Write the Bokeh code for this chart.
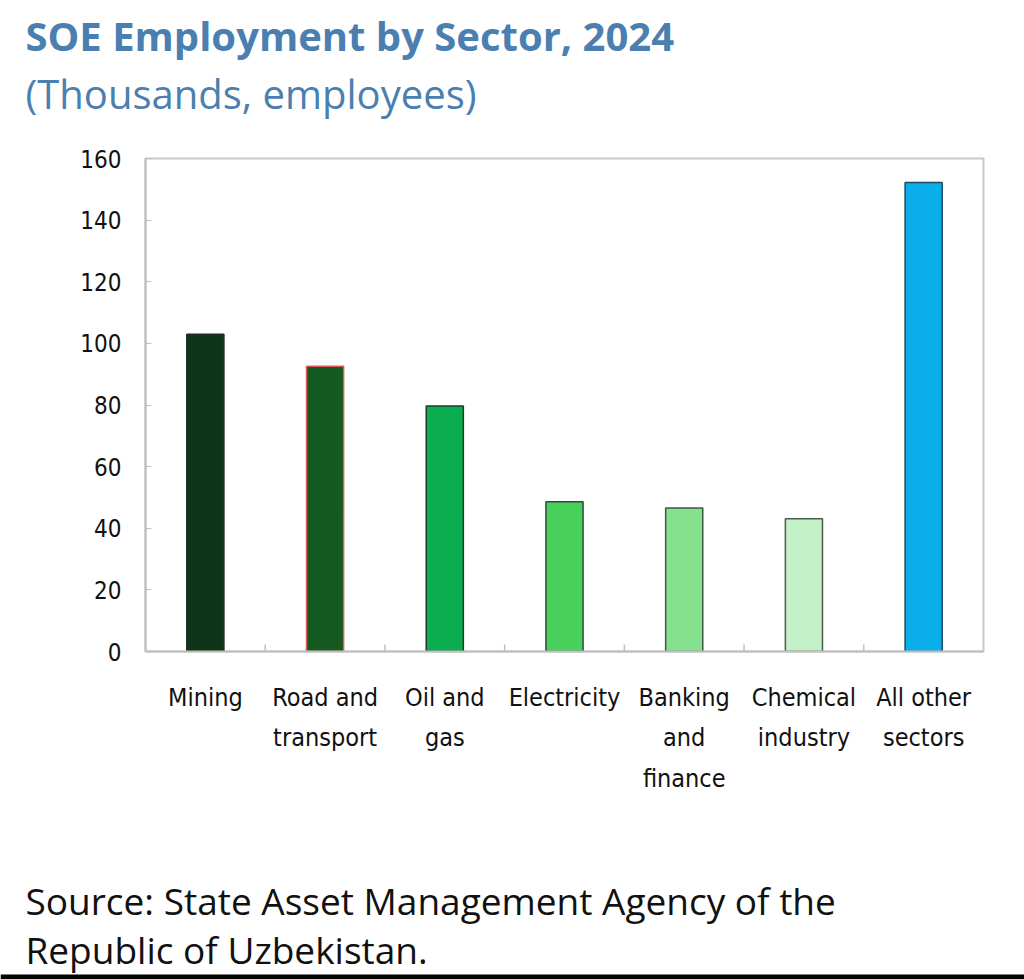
import math
from bokeh.plotting import figure
from bokeh.layouts import column
from bokeh.models import ColumnDataSource, Label, BoxAnnotation
from bokeh.transform import dodge
from bokeh.embed import file_html
from bokeh.resources import INLINE

sectors = ["Mining", "Road and\ntransport", "Oil and\ngas", "Electricity",
           "Banking\nand\nfinance", "Chemical\nindustry", "All other\nsectors"]
employees = [103.0, 92.6, 79.7, 48.6, 46.6, 43.1, 152.2]
colors = ["#0f3417", "#145a20", "#0aad4f", "#47d15c", "#86e18f", "#c4f0c8", "#0aaeea"]
outlines = ["#1e2e22", "#e05a5a", "#1e3a28", "#2f4a35", "#3c5a43", "#4a5e4e", "#1f4a60"]
y_ticks = [0, 20, 40, 60, 80, 100, 120, 140, 160]

TITLE_FONT = "Open Sans"
TICK_FONT = "DejaVu Sans Condensed, sans-serif"
W = 1024
HEAD_H, MAIN_H, FOOT_H = 120, 740, 119


def blank(h):
    f = figure(width=W, height=h, x_range=(0, W), y_range=(0, h),
               x_axis_type=None, y_axis_type=None, output_backend="svg",
               toolbar_location=None, min_border=0)
    f.frame_align = False
    f.grid.grid_line_color = None
    f.outline_line_color = None
    return f


# ---- header
head = blank(HEAD_H)
title_color = "#4a7fb0"
head.add_layout(Label(x=25, y=HEAD_H - 35, x_units="screen", y_units="screen",
                      text="SOE Employment by Sector, 2024", text_font=TITLE_FONT,
                      text_font_style="bold", text_font_size="40px", text_color=title_color,
                      text_baseline="middle"))
head.add_layout(Label(x=25, y=HEAD_H - 93, x_units="screen", y_units="screen",
                      text="(Thousands, employees)", text_font=TITLE_FONT,
                      text_font_size="40px", text_color=title_color, text_baseline="middle"))

# ---- main chart
src = ColumnDataSource(dict(sector=sectors, val=employees, color=colors, outline=outlines))
p = figure(x_range=sectors, y_range=(0, 160), width=W, height=MAIN_H,
           output_backend="svg", toolbar_location=None,
           min_border_left=145, min_border_right=41, min_border_top=38, min_border_bottom=209)

p.vbar(x="sector", top="val", width=0.31, source=src, fill_color="color",
       line_color="outline", line_width=1.5)

bsrc = ColumnDataSource(dict(sector=sectors[:-1], y=[0] * (len(sectors) - 1)))
p.ray(x=dodge("sector", 0.5, range=p.x_range), y="y", length=7, length_units="screen",
      angle=math.pi / 2, source=bsrc, line_color="#bfbfbf", line_width=1.5)

p.xgrid.grid_line_color = None
p.ygrid.grid_line_color = None
p.outline_line_color = "#c8c8c8"
p.outline_line_width = 2

p.yaxis.ticker = y_ticks
p.yaxis.axis_line_color = "#bfbfbf"
p.yaxis.axis_line_width = 2
p.yaxis.major_tick_in = 6
p.yaxis.major_tick_out = 0
p.yaxis.major_tick_line_color = "#bfbfbf"
p.yaxis.minor_tick_line_color = None
p.yaxis.major_label_text_font = TICK_FONT
p.yaxis.major_label_text_font_size = "24px"
p.yaxis.major_label_text_color = "#111111"
p.yaxis.major_label_standoff = 24

p.xaxis.axis_line_color = "#bfbfbf"
p.xaxis.axis_line_width = 2
p.xaxis.major_tick_line_color = None
p.xaxis.major_label_text_font = TICK_FONT
p.xaxis.major_label_text_font_size = "25px"
p.xaxis.major_label_text_color = "#111111"
p.xaxis.major_label_standoff = 25
p.xaxis.major_label_text_line_height = 1.4

# ---- footer
foot = blank(FOOT_H)
foot.add_layout(Label(x=25, y=FOOT_H - 40, x_units="screen", y_units="screen",
                      text="Source: State Asset Management Agency of the", text_font=TITLE_FONT,
                      text_font_size="37px", text_color="#111111", text_baseline="middle"))
foot.add_layout(Label(x=25, y=FOOT_H - 89, x_units="screen", y_units="screen",
                      text="Republic of Uzbekistan.", text_font=TITLE_FONT,
                      text_font_size="37px", text_color="#111111", text_baseline="middle"))
foot.add_layout(BoxAnnotation(left=0, right=W, bottom=0, top=5,
                              left_units="screen", right_units="screen",
                              bottom_units="screen", top_units="screen",
                              fill_color="black", fill_alpha=1, line_color=None))

layout = column(head, p, foot, spacing=0)
open("out.html", "w").write(file_html(layout, INLINE))
